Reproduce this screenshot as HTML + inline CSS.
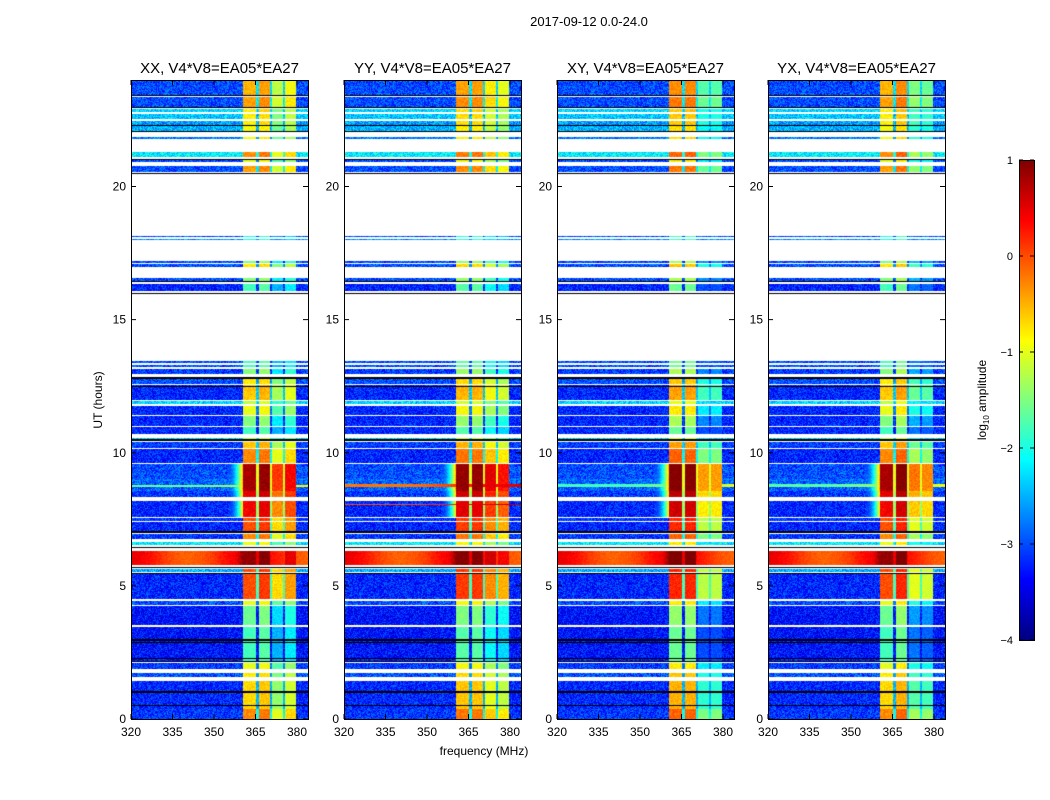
<!DOCTYPE html>
<html><head><meta charset="utf-8"><style>
body{margin:0;background:#fff;}
#wrap{position:relative;width:1050px;height:800px;overflow:hidden;font-family:"Liberation Sans",sans-serif;}
canvas{position:absolute;}
svg{position:absolute;left:0;top:0;}
</style></head><body>
<div id="wrap">
<canvas id="c0" width="177" height="640" style="left:131px;top:80px"></canvas>
<canvas id="c1" width="177" height="640" style="left:344px;top:80px"></canvas>
<canvas id="c2" width="177" height="640" style="left:557px;top:80px"></canvas>
<canvas id="c3" width="177" height="640" style="left:768px;top:80px"></canvas>
<canvas id="cb" width="15" height="480" style="left:1019px;top:160px"></canvas>
<svg id="ax" width="1050" height="800"></svg>
</div>
<script>
const panelTitles=["XX, V4*V8=EA05*EA27","YY, V4*V8=EA05*EA27","XY, V4*V8=EA05*EA27","YX, V4*V8=EA05*EA27"];
const xTicks=[320,335,350,365,380];
const yTicks=[0,5,10,15,20];
const cbTicks=[1,0,-1,-2,-3,-4];
const bandLo=[23.45,23.0,22.8,22.55,22.3,22.08,21.78,21.1,20.92,20.55,18.1,18.0,17.14,17.0,16.48,16.1,13.4,13.25,12.98,12.61,12.0,11.86,11.45,11.03,10.73,10.45,10.2,9.62,9.05,8.6,8.35,7.63,7.48,7.1,6.8,6.55,5.8,5.55,4.52,4.3,3.55,2.22,1.92,1.62,0.4,0.0];
const bandHi=[24,23.38,22.92,22.72,22.45,22.27,21.85,21.3,21.0,20.78,18.15,18.05,17.22,17.1,16.58,16.36,13.47,13.32,13.17,12.87,12.55,11.95,11.78,11.4,11.0,10.58,10.42,10.15,9.6,9.03,8.58,8.2,7.57,7.42,6.97,6.66,6.35,5.65,5.5,4.48,4.27,3.5,2.12,1.75,1.45,0.4];
const bandBase=[-3.0,-3.0,-2.3,-2.4,-2.6,-2.5,-2.8,-2.2,-3.0,-3.0,-3.0,-2.7,-3.0,-3.0,-3.0,-3.2,-3.0,-3.0,-3.1,-3.0,-3.2,-2.3,-3.2,-3.2,-3.2,-2.3,-3.1,-3.2,-3.0,-2.9,-3.1,-3.2,-3.1,-3.2,-3.1,-2.2,0.2,-2.5,-3.2,-3.0,-3.3,-3.3,-3.1,-3.0,-3.2,-3.1];
const bandRfi=[-0.5,-0.4,-0.8,-0.8,-0.8,-0.9,-0.9,-0.3,-1.0,-0.4,-2.0,-2.0,-1.5,-0.8,-1.5,-1.8,-1.8,-1.8,-1.5,-0.8,-0.6,-1.2,-1.0,-1.5,-1.8,-1.2,-0.6,-0.3,0.8,0.8,0.5,0.4,0.0,0.0,-0.3,-1.0,0.9,0.0,0.0,-1.0,-1.6,-1.8,-1.0,-0.8,-0.7,-0.3];
const stripePanel=[0,1,1,2,3,0,1,2,3];
const stripeLo=[8.72,8.74,8.05,8.74,8.74,5.95,5.95,5.95,5.95];
const stripeHi=[8.82,8.86,8.1,8.84,8.84,6.05,6.05,6.05,6.05];
const stripeVal=[-1.6,-0.2,0.0,-1.8,-1.7,-1.5,-1.0,-0.5,-1.2];
const blackH=[23.41,22.98,22.29,22.06,21.02,20.5,16.45,16.0,12.82,12.5,10.5,7.05,6.47,5.72,5.5,3.0,2.9,2.3,2.2,1.05,0.55];
const chanLo=[360.5,366.2,370.9,375.6];
const chanHi=[365.1,370.2,374.9,379.6];
const chanGain=[[0,0.1,-0.7,-0.4],[0.1,0.1,-0.3,-0.5],[0.2,0.2,-1.2,-1.2],[0,0.2,-1.0,-1.1]];

const X0=[131,344,557,768], PW=177, TOP=80, BOT=719;
const fmin=320, fmax=320+177/(41.5/15);
const hour2y=h=>BOT-(h/24)*(BOT-TOP);
function jet(v){let t=(v+4)/5;t=Math.max(0,Math.min(1,t));const c=x=>Math.round(255*Math.max(0,Math.min(1,x)));
return [c(1.5-Math.abs(4*t-3)),c(1.5-Math.abs(4*t-2)),c(1.5-Math.abs(4*t-1))];}
function tex(x,y){let n=(x*374761393+y*668265263)|0;n=(n^(n>>>13))*1274126177|0;return ((n>>>0)%1000)/1000-0.5;}
for(let p=0;p<4;p++){
  const ctx=document.getElementById('c'+p).getContext('2d');
  const img=ctx.createImageData(PW,640);
  for(let r=0;r<640;r++){
    const h=24*(1-(r+0.5)/640);
    let bi=-1;for(let i=0;i<bandLo.length;i++){if(h>=bandLo[i]&&h<bandHi[i]){bi=i;break;}}
    let black=blackH.some(b=>Math.abs(b-h)<0.025);
    let sv=null;for(let s=0;s<stripePanel.length;s++){if(stripePanel[s]===p&&h>=stripeLo[s]&&h<stripeHi[s])sv=stripeVal[s];}
    for(let c=0;c<PW;c++){
      const k=4*(r*PW+c);let col;
      if(black){col=[0,0,0];}
      else if(bi<0){col=[255,255,255];}
      else{
        const f=fmin+(c+0.5)/PW*(fmax-fmin);
        let base=bandBase[bi];
        let v=base+tex(c,r)*0.8;
        if(sv!==null) v=sv+(f>345?0.3*(f-345)/15:0)+tex(c,r)*0.15;
        if(base>-0.5) v=base+0.3*Math.sin(f/7)+tex(c,r)*0.2;
        const rf=bandRfi[bi];
        let inC=false;
        for(let j=0;j<4;j++){if(f>=chanLo[j]&&f<chanHi[j]){v=Math.max(v,rf+chanGain[p][j]+tex(c,r)*0.3);inC=true;}}
        if(!inC&&f>=chanLo[0]&&f<chanHi[3]) v=Math.max(v,rf-1.8+tex(c,r)*0.4);
        if(f>355&&f<chanLo[0]&&rf>0.3) v=Math.max(v,base+(rf+0.5-base)*Math.pow((f-355)/(chanLo[0]-355),2)*0.6+tex(c,r)*0.3);
        col=jet(v);
      }
      img.data[k]=col[0];img.data[k+1]=col[1];img.data[k+2]=col[2];img.data[k+3]=255;
    }
  }
  ctx.putImageData(img,0,0);
}
{const ctx=document.getElementById('cb').getContext('2d');
for(let r=0;r<480;r++){const v=1-5*r/479;const c=jet(v);ctx.fillStyle=`rgb(${c[0]},${c[1]},${c[2]})`;ctx.fillRect(0,r,15,1);}}
const NS='http://www.w3.org/2000/svg';const svg=document.getElementById('ax');
function el(t,a,txt){const e=document.createElementNS(NS,t);for(const k in a)e.setAttribute(k,a[k]);if(txt!==undefined)e.textContent=txt;svg.appendChild(e);return e;}
const xpos=(p,f)=>X0[p]+(f-fmin)/(fmax-fmin)*PW;
for(let p=0;p<4;p++){
  const fr=el('rect',{x:X0[p]+0.5,y:TOP+0.5,width:PW,height:BOT-TOP,fill:'none',stroke:'#000','stroke-width':1});
  
  
  const t=el('text',{x:X0[p]+PW/2,y:73,'font-size':15,'text-anchor':'middle'},panelTitles[p]);
  
  
  xTicks.forEach(v=>{const x=xpos(p,v);
    el('line',{x1:x,x2:x,y1:BOT,y2:BOT-5,stroke:'#000'});el('line',{x1:x,x2:x,y1:TOP,y2:TOP+5,stroke:'#000'});
    const l=el('text',{x:x,y:736,'font-size':12,'text-anchor':'middle'},String(v));
    
    });
  yTicks.forEach(v=>{const y=hour2y(v);
    el('line',{x1:X0[p],x2:X0[p]+5,y1:y,y2:y,stroke:'#000'});el('line',{x1:X0[p]+PW,x2:X0[p]+PW-5,y1:y,y2:y,stroke:'#000'});
    const l=el('text',{x:X0[p]-5,y:y+4,'font-size':12,'text-anchor':'end'},String(v));
    
    });
}
const st=el('text',{x:589,y:26,'font-size':13,'text-anchor':'middle'},'2017-09-12 0.0-24.0');


const xl=el('text',{x:484,y:755,'font-size':12,'text-anchor':'middle'},'frequency (MHz)');


const yl=el('text',{x:0,y:0,'font-size':12,'text-anchor':'middle',transform:'translate(102,400) rotate(-90)'},'UT (hours)');


el('rect',{x:1019.5,y:160.5,width:15,height:480,fill:'none',stroke:'#000'});
cbTicks.forEach(v=>{const y=160+(1-v)/5*480;
  el('line',{x1:1019,x2:1023,y1:y,y2:y,stroke:'#000'});el('line',{x1:1034,x2:1030,y1:y,y2:y,stroke:'#000'});
  const l=el('text',{x:1013,y:y+4,'font-size':11,'text-anchor':'end'},v<0?'\u2212'+(-v):String(v));
  
  });
const cl=el('text',{x:0,y:0,'font-size':12,'text-anchor':'middle',transform:'translate(986,400) rotate(-90)'});
cl.innerHTML='log<tspan font-size="8" dy="3">10</tspan><tspan dy="-3"> amplitude</tspan>';


</script>
</body></html>
